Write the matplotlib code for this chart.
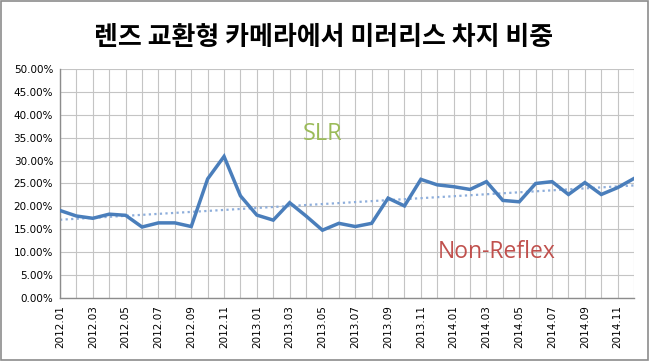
import numpy as np
import matplotlib
matplotlib.use("Agg")
import matplotlib.pyplot as plt
from matplotlib.patches import Rectangle

title = "렌즈 교환형 카메라에서 미러리스 차지 비중"
months = [f"{y}.{m:02d}" for y in (2012, 2013, 2014) for m in range(1, 13)]
values = [19.1, 17.9, 17.4, 18.3, 18.05, 15.5, 16.4, 16.4, 15.6, 26.0, 30.9, 22.3,
          18.1, 17.0, 20.8, 17.9, 14.8, 16.3, 15.6, 16.3, 21.8, 20.1, 25.9, 24.7,
          24.3, 23.7, 25.4, 21.3, 21.0, 25.0, 25.4, 22.6, 25.2, 22.6, 24.1, 26.1]
yticks = [0, 5, 10, 15, 20, 25, 30, 35, 40, 45, 50]
label_slr = "SLR"
label_nr = "Non-Reflex"

fig = plt.figure(figsize=(6.49, 3.61), dpi=100)
fig.patches.append(Rectangle((0.0008, 0.003), 0.9969, 0.994, transform=fig.transFigure,
                             fill=False, edgecolor="#8c8c8c", linewidth=1.2))
ax = fig.add_axes([0.0925, 0.1745, 0.8845, 0.6345])

x = np.arange(len(values))
ax.plot(x, values, color="#4A7EBB", linewidth=2.5, solid_joinstyle="miter", zorder=3)
coef = np.polyfit(x, values, 1)
ax.plot(x, np.polyval(coef, x), color="#8EAEDB", linewidth=1.6, linestyle=(0, (1, 1.5)), zorder=2)

ax.set_xlim(0, len(values) - 1)
ax.set_ylim(0, 50)
ax.set_yticks(yticks)
ax.set_yticklabels([f"{v:.2f}%" for v in yticks], fontsize=7.5, family="DejaVu Sans")
ax.set_xticks(x, minor=True)
ax.set_xticks(x[::2])
ax.set_xticklabels(months[::2], rotation=90, fontsize=7.5, family="DejaVu Sans")
ax.grid(True, which="both", color="#c4c4c4", linewidth=0.8)
ax.set_axisbelow(True)
ax.tick_params(which="both", length=0, pad=5)
for s in ("top", "right"):
    ax.spines[s].set_visible(False)
for s in ("left", "bottom"):
    ax.spines[s].set_color("#8c8c8c")
    ax.spines[s].set_linewidth(1.0)

ax.text(16.0, 35.8, label_slr, color="#9BBB59", fontsize=17, family="Open Sans",
        ha="center", va="center")
ax.text(26.6, 10.0, label_nr, color="#C0504D", fontsize=16.5, family="Open Sans",
        ha="center", va="center")

fig.text(0.4985, 0.895, title, fontsize=18.7, fontweight="bold",
         family=["Noto Sans CJK KR", "DejaVu Sans"], ha="center", va="center")

fig.savefig("out.png", dpi=100)
